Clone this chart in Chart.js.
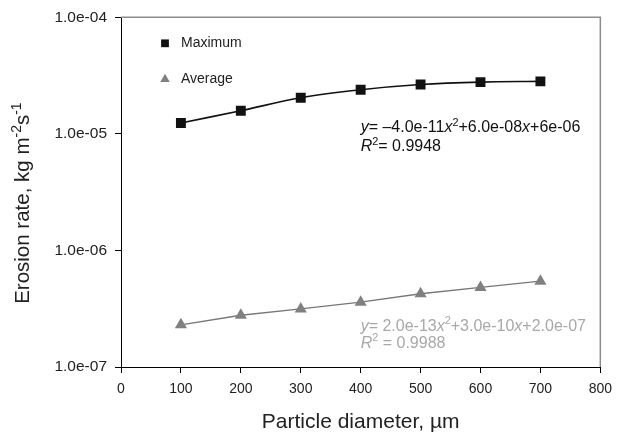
<!DOCTYPE html>
<html>
<head>
<meta charset="utf-8">
<title>Erosion rate vs particle diameter</title>
<script src="https://cdn.jsdelivr.net/npm/chart.js@4.4.1/dist/chart.umd.min.js"></script>
<style>
    html, body { margin: 0; padding: 0; background: #fff; }
</style>
</head>
<body>
<canvas id="erosionChart" width="620" height="437"></canvas>
<script>
// Particle diameter (µm)
const diameters = [100, 200, 300, 400, 500, 600, 700];
// Maximum erosion rate (kg m-2 s-1)
const maxRates = [1.24e-5, 1.58e-5, 2.04e-5, 2.39e-5, 2.65e-5, 2.78e-5, 2.82e-5];
// Average erosion rate (kg m-2 s-1)
const avgRates = [2.3e-7, 2.78e-7, 3.15e-7, 3.6e-7, 4.25e-7, 4.82e-7, 5.45e-7];

// Axis ticks
const xTicks = [0, 100, 200, 300, 400, 500, 600, 700, 800];
const yTicks = [1e-7, 1e-6, 1e-5, 1e-4];

// Trend line equations
const maxFitLines = [
    [{ t: 'y', i: true }, { t: '= –4.0e-11' }, { t: 'x', i: true }, { t: '2', sup: true }, { t: '+6.0e-08' }, { t: 'x', i: true }, { t: '+6e-06' }],
    [{ t: 'R', i: true }, { t: '2', sup: true }, { t: '= 0.9948' }]
];
const avgFitLines = [
    [{ t: 'y', i: true }, { t: '= 2.0e-13' }, { t: 'x', i: true }, { t: '2', sup: true }, { t: '+3.0e-10' }, { t: 'x', i: true }, { t: '+2.0e-07' }],
    [{ t: 'R', i: true }, { t: '2', sup: true }, { t: ' = 0.9988' }]
];

const FONT = '"Liberation Sans", Arial, sans-serif';

// Draw a line of text with italic / superscript parts
function drawRich(ctx, parts, x, y, size, color, dryRun) {
    let cx = x;
    parts.forEach(p => {
        const fs = p.sup ? size * 0.68 : size;
        ctx.font = `${p.i ? 'italic ' : ''}${fs}px ${FONT}`;
        if (!dryRun) {
            ctx.fillStyle = color;
            ctx.textBaseline = 'alphabetic';
            ctx.textAlign = 'left';
            ctx.fillText(p.t, cx, p.sup ? y - size * 0.4 : y);
        }
        cx += ctx.measureText(p.t).width;
    });
    return cx - x;
}

// Legend, equations, y title and frame
const decorPlugin = {
    id: 'decor',
    afterDraw(chart) {
        const ctx = chart.ctx;
        const area = chart.chartArea;
        const xs = chart.scales.x;
        const ys = chart.scales.y;
        ctx.save();

        // top / right frame
        ctx.strokeStyle = '#8c8c8c';
        ctx.lineWidth = 1.5;
        ctx.beginPath();
        ctx.moveTo(area.left, area.top);
        ctx.lineTo(area.right, area.top);
        ctx.lineTo(area.right, area.bottom);
        ctx.stroke();

        // legend inside the plot
        chart.data.datasets.forEach((ds, i) => {
            const mx = area.left + 44;
            const my = area.top + 26 + i * 36;
            ctx.fillStyle = ds.pointBackgroundColor;
            ctx.strokeStyle = ds.pointBackgroundColor;
            Chart.helpers.drawPoint(ctx, {
                pointStyle: ds.pointStyle,
                radius: 5.5,
                rotation: 0,
                borderWidth: 0
            }, mx, my);
            ctx.fillStyle = '#222';
            ctx.font = `14px ${FONT}`;
            ctx.textBaseline = 'middle';
            ctx.textAlign = 'left';
            ctx.fillText(ds.label, mx + 16, my);
        });

        // trend line equations
        const ex = xs.getPixelForValue(400);
        drawRich(ctx, maxFitLines[0], ex, ys.getPixelForValue(1.15e-5) + 5.5, 16, '#111');
        drawRich(ctx, maxFitLines[1], ex, ys.getPixelForValue(7.9e-6) + 5.5, 16, '#111');
        drawRich(ctx, avgFitLines[0], ex, ys.getPixelForValue(2.28e-7) + 5.5, 16, '#a8a8a8');
        drawRich(ctx, avgFitLines[1], ex, ys.getPixelForValue(1.63e-7) + 5.5, 16, '#a8a8a8');

        // y axis title
        const yTitle = [{ t: 'Erosion rate, kg m' }, { t: '-2', sup: true }, { t: 's' }, { t: '-1', sup: true }];
        const w = drawRich(ctx, yTitle, 0, 0, 20.5, '#222', true);
        ctx.translate(29, (area.top + area.bottom) / 2 + 11);
        ctx.rotate(-Math.PI / 2);
        drawRich(ctx, yTitle, -w / 2, 0, 20.5, '#222');

        ctx.restore();
    }
};

const erosionChart = new Chart(
    document.getElementById('erosionChart'),
    {
        type: 'scatter',
        data: {
            datasets: [{
                label: 'Maximum',
                data: diameters.map((d, i) => ({ x: d, y: maxRates[i] })),
                showLine: true,
                borderColor: '#111',
                borderWidth: 1.6,
                tension: 0.35,
                pointStyle: 'rect',
                pointRadius: 7,
                pointBackgroundColor: '#111',
                pointBorderWidth: 0
            }, {
                label: 'Average',
                data: diameters.map((d, i) => ({ x: d, y: avgRates[i] })),
                showLine: true,
                borderColor: '#777',
                borderWidth: 1.4,
                pointStyle: 'triangle',
                pointRadius: 7,
                pointBackgroundColor: '#808080',
                pointBorderWidth: 0
            }]
        },
        options: {
            responsive: false,
            animation: false,
            devicePixelRatio: 1,
            layout: { padding: { left: 0, right: 14, top: 15, bottom: 0 } },
            plugins: {
                legend: { display: false },
                tooltip: { enabled: false }
            },
            scales: {
                x: {
                    type: 'linear',
                    min: 0,
                    max: 800,
                    afterBuildTicks: axis => { axis.ticks = xTicks.map(v => ({ value: v })); },
                    afterFit: axis => { axis.height = 70; },
                    ticks: { font: { family: FONT, size: 14 }, color: '#222', padding: 8, maxRotation: 0 },
                    grid: { drawOnChartArea: false, drawTicks: true, tickLength: 6, color: '#000' },
                    border: { color: '#000', width: 1 },
                    title: {
                        display: true,
                        text: 'Particle diameter, µm',
                        font: { family: FONT, size: 21 },
                        color: '#222',
                        padding: { top: 4, bottom: 2 }
                    }
                },
                y: {
                    type: 'logarithmic',
                    min: 1e-7,
                    max: 1e-4,
                    afterBuildTicks: axis => { axis.ticks = yTicks.map(v => ({ value: v })); },
                    afterFit: axis => { axis.width = 121; },
                    ticks: {
                        font: { family: FONT, size: 15.5 },
                        color: '#222',
                        padding: 8,
                        callback: v => v.toExponential(1).replace(/e([+-])(\d)$/, (m, s, d) => 'e' + s + '0' + d)
                    },
                    grid: { drawOnChartArea: false, drawTicks: true, tickLength: 6, color: '#000' },
                    border: { color: '#000', width: 1 }
                }
            }
        },
        plugins: [decorPlugin]
    }
);
</script>
</body>
</html>
